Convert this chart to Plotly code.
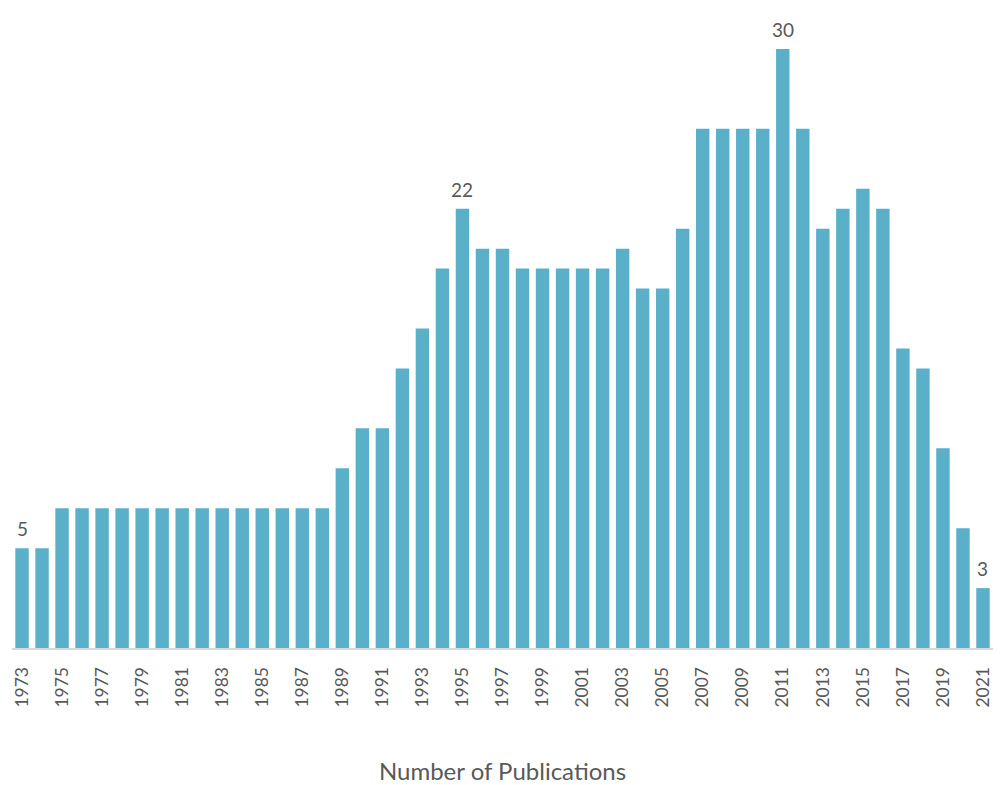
import plotly.graph_objects as go

years = list(range(1973, 2022))
counts = [5, 5, 7, 7, 7, 7, 7, 7, 7, 7, 7, 7, 7, 7, 7, 7,
          9, 11, 11, 14, 16, 19, 22, 20, 20, 19, 19, 19, 19, 19,
          20, 18, 18, 21, 26, 26, 26, 26, 30, 26, 21, 22, 23, 22,
          15, 14, 10, 6, 3]
labeled_years = [1973, 1995, 2011, 2021]
tick_years = list(range(1973, 2022, 2))

fig = go.Figure()
fig.add_trace(go.Bar(
    x=[str(y) for y in years],
    y=counts,
    marker=dict(color="#5AAFC9", line=dict(width=0)),
    cliponaxis=False,
))

for i, (y, c) in enumerate(zip(years, counts)):
    if y in labeled_years:
        fig.add_annotation(
            x=i, y=c, text=str(c), showarrow=False,
            yanchor="bottom", yshift=6,
            font=dict(family="Lato, sans-serif", size=19, color="#595959"),
        )

fig.update_layout(
    width=1002, height=785,
    margin=dict(l=12, r=9, t=20, b=137),
    paper_bgcolor="white", plot_bgcolor="white",
    bargap=0.33,
    showlegend=False,
    xaxis=dict(
        type="category",
        automargin=False,
        range=[-0.5, len(years) - 0.5],
        tickmode="array",
        tickvals=[str(y) for y in tick_years],
        ticktext=[str(y) for y in tick_years],
        tickangle=-90,
        tickfont=dict(family="Lato, sans-serif", size=17.5, color="#595959"),
        ticklabelstandoff=10,
        showline=True, linecolor="#D9D9D9", linewidth=2,
        ticks="", showgrid=False,
        title=dict(text="Number of Publications",
                   font=dict(family="Lato, sans-serif", size=24, color="#595959"),
                   standoff=58),
    ),
    yaxis=dict(range=[0, 31.45], visible=False, showgrid=False, zeroline=False),
)

fig.write_html("out.html")
